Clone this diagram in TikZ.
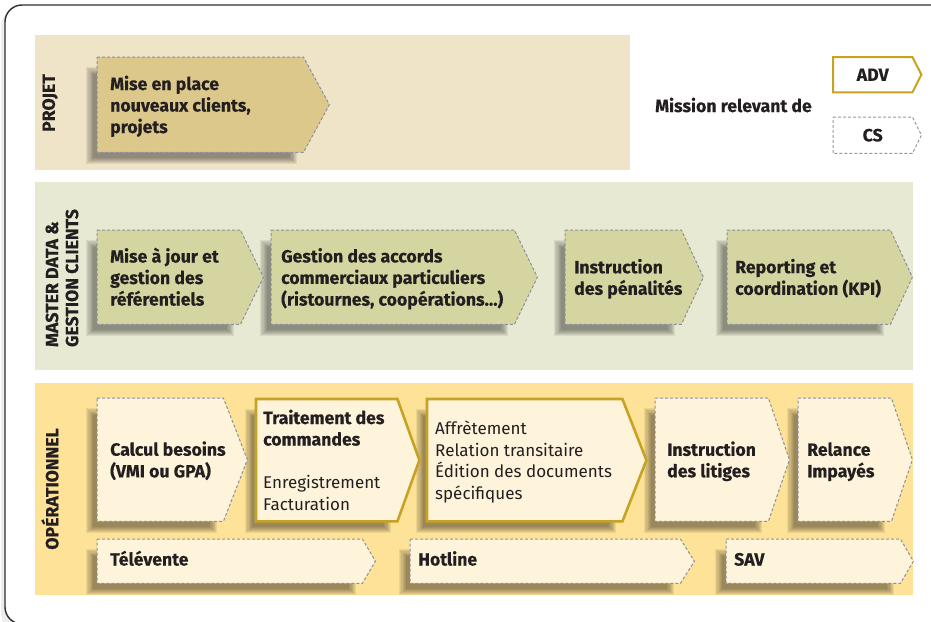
\documentclass[tikz,border=0pt]{standalone}
\usepackage{fontspec}
\setmainfont{Fira Sans}[BoldFeatures={Scale=1.04, FakeBold=0.3}]
\usetikzlibrary{calc}

\definecolor{ink}{HTML}{231F20}
\definecolor{projband}{HTML}{EFE4C8}
\definecolor{projfill}{HTML}{DDC88B}
\definecolor{mdband}{HTML}{E7E9D3}
\definecolor{mdfill}{HTML}{D4D5A1}
\definecolor{opband}{HTML}{FDE297}
\definecolor{opfill}{HTML}{FEF3DB}
\definecolor{dashgray}{HTML}{8F909B}
\definecolor{gold}{HTML}{C6A323}
\definecolor{frameline}{HTML}{2E2E2E}

\pgfdeclarelayer{bands}
\pgfdeclarelayer{shadows}
\pgfdeclarelayer{shapes}
\pgfsetlayers{bands,shadows,shapes,main}

\tikzset{
  txt/.style={inner sep=0pt, text=ink, font=\fontsize{17}{21.5}\selectfont},
  lbl/.style={txt, font=\fontsize{17}{20}\selectfont\bfseries},
  csline/.style={draw=dashgray, line width=1pt, dash pattern=on 3pt off 2pt},
  advline/.style={draw=gold, line width=2.6pt, line join=miter},
  projcell/.style={csline, fill=projfill},
  mdcell/.style={csline, fill=mdfill},
  opcell/.style={csline, fill=opfill},
  opadv/.style={advline, fill=opfill},
}

% left-aligned stack of lines
\newcommand\lines[1]{\begin{tabular}{@{}l@{}}#1\end{tabular}}

% how far the text block sits below the middle of its box
\newcommand\textdrop{2.5pt}

% pentagon outline drawn behind a node: flat left side, pointed right side
\newcommand\outline[3]{%
  \begin{pgfonlayer}{shapes}
    \path[#1] (#2.north west) -- (#2.north east) -- ([xshift=#3pt]#2.east)
      -- (#2.south east) -- (#2.south west) -- cycle;
  \end{pgfonlayer}}

% soft drop shadow, offset to the lower left
\newcommand\softshadow[1]{%
  \begin{pgfonlayer}{shadows}
    \foreach \i in {0,...,6}{
      \fill[black, opacity=0.065]
        ($(#1.north west)+(-11+1.2*\i, 10+1.2*\i)$) rectangle
        ($(#1.south east)+(-6-1.2*\i, 11.5-1.0*\i)$);
    }
  \end{pgfonlayer}}

% #1 outline style, #2 name, #3 left, #4 top, #5 width, #6 height,
% #7 left padding, #8 depth of the point, #9 text
\newcommand\stage[9]{%
  \node[txt, anchor=north west, minimum width=#5pt, minimum height=#6pt] (#2) at (#3,#4)
    {\makebox[#5pt][l]{\hspace*{#7pt}\raisebox{-\textdrop}[\height][\depth]{\lines{#9}}}};
  \softshadow{#2}
  \outline{#1}{#2}{#8}}

\begin{document}
\begin{tikzpicture}[x=1pt, y=-1pt]
\useasboundingbox (0,0) rectangle (931,621);
\clip (0,0) rectangle (931,621);

\begin{pgfonlayer}{bands}
  % page frame
  \fill[black!7, rounded corners=17pt] (1,9) rectangle (950,630);
  \draw[frameline, line width=1.4pt, fill=white, rounded corners=17pt] (5,5) rectangle (960,624);
  % swim lanes
  \fill[projband] (35,35) rectangle (630,170);
  \fill[mdband] (35,182) rectangle (913,370);
  \fill[opband] (35,383) rectangle (913,595);
\end{pgfonlayer}

% lane titles
\node[lbl, rotate=90] (tproj) at (50,103) {PROJET};
\node[lbl, rotate=90, align=left] (tmd) at (62,278) {MASTER DATA \&\\GESTION CLIENTS};
\node[lbl, rotate=90] (top) at (50,489) {OPÉRATIONNEL};

% PROJET
\stage{projcell}{mep}{97}{57}{206}{95}{13}{26}{\bfseries Mise en place\\\bfseries nouveaux clients,\\\bfseries projets}

% MASTER DATA & GESTION CLIENTS
\stage{mdcell}{ref}{97}{230}{143}{94}{13}{23}{\bfseries Mise à jour et\\\bfseries gestion des\\\bfseries référentiels}
\stage{mdcell}{acc}{271}{230}{243}{94}{10}{23}{\bfseries Gestion des accords\\\bfseries commerciaux particuliers\\\bfseries (ristournes, coopérations…)}
\stage{mdcell}{pen}{565}{230}{116}{94}{9}{22}{\bfseries Instruction\\\bfseries des pénalités}
\stage{mdcell}{kpi}{727}{230}{163}{94}{8}{22}{\bfseries Reporting et\\\bfseries coordination (KPI)}

% OPÉRATIONNEL, main chain
\stage{opcell}{calc}{97}{398}{126}{123}{13}{24}{\bfseries Calcul besoins\\\bfseries (VMI ou GPA)}
\stage{opadv}{cmd}{256}{399}{141}{122}{7}{22}{\bfseries Traitement des\\\bfseries commandes\\ \\Enregistrement\\Facturation}
\stage{opadv}{aff}{427}{399}{195}{122}{8}{24}{Affrètement\\Relation transitaire\\Édition des documents\\spécifiques}
\stage{opcell}{lit}{655}{398}{113}{123}{12}{21}{\bfseries Instruction\\\bfseries des litiges}
\stage{opcell}{rel}{798}{398}{93}{123}{9}{21}{\bfseries Relance\\\bfseries Impayés}

% OPÉRATIONNEL, support lines
\renewcommand\textdrop{0pt}
\stage{opcell}{tel}{97}{539}{265}{44}{13}{13}{\bfseries Télévente}
\stage{opcell}{hot}{410}{539}{270}{44}{8}{14}{\bfseries Hotline}
\stage{opcell}{sav}{726}{539}{174}{44}{8}{13}{\bfseries SAV}

% key
\node[lbl, anchor=west] (mission) at (655,105) {Mission relevant de};
\node[lbl, anchor=north west, minimum width=79pt, minimum height=35pt] (kadv) at (833,57) {\makebox[79pt][c]{ADV}};
\outline{advline, fill=white, line width=2pt}{kadv}{9}
\node[lbl, anchor=north west, minimum width=79pt, minimum height=36pt] (kcs) at (833,117) {\makebox[79pt][c]{CS}};
\outline{csline, fill=white, draw=black!40}{kcs}{9}
\end{tikzpicture}
\end{document}
